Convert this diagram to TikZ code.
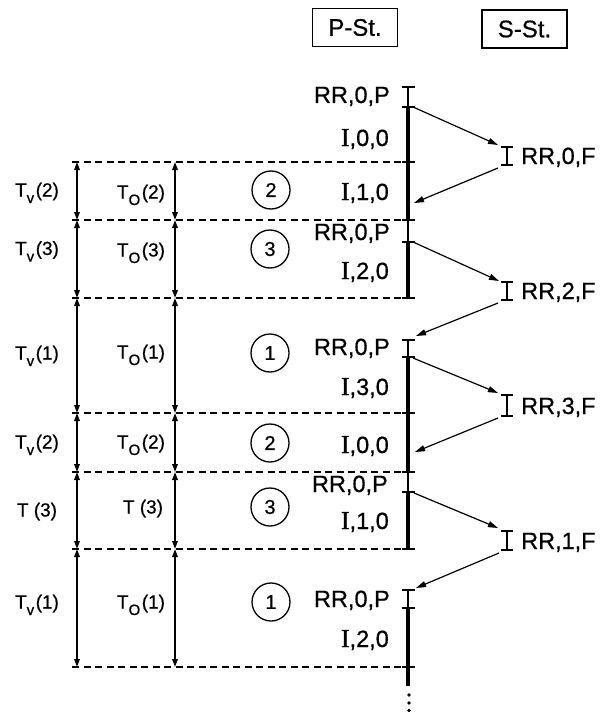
\documentclass[tikz,border=0pt]{standalone}
\usepackage{fontspec}
\setmainfont{Liberation Sans}[FakeBold=0.6]
\newfontfamily\serifI{Liberation Serif}[FakeBold=0.9, Scale=1.1]
\usetikzlibrary{arrows.meta}

% serif capital I used in the I,n,0 labels
\newcommand{\Ii}{{\serifI I}}
% time symbol with a lowered index: T_x(n)
\newcommand{\Tidx}[2]{T\raisebox{-6.5bp}{\fontsize{15bp}{15bp}\selectfont #1}\kern1.5bp(#2)}
% short horizontal mark across a vertical bar, given a coordinate name
\newcommand{\tickat}[1]{\draw[tick] ([xshift=-6.5bp]#1) -- ([xshift=7bp]#1);}

\begin{document}
\begin{tikzpicture}[x=1bp,y=-1bp,
  big/.style={font=\fontsize{23.5bp}{24bp}\selectfont, inner sep=0pt},
  small/.style={font=\fontsize{19bp}{19bp}\selectfont, inner sep=0pt},
  hdr/.style={draw, line width=1.3bp, font=\fontsize{24bp}{24bp}\selectfont,
    minimum width=85bp, minimum height=38bp, inner sep=0pt},
  num/.style={draw, circle, line width=1.3bp, minimum size=38bp, inner sep=0pt,
    font=\fontsize{20bp}{20bp}\selectfont},
  levelline/.style={line width=1.2bp, dash pattern=on 7bp off 4.5bp},
  timebar/.style={line width=3.8bp},
  rrbar/.style={line width=2.2bp},
  tick/.style={line width=1.5bp},
  msg/.style={line width=1.2bp, -{Triangle[length=10bp,width=6bp]}},
  span/.style={line width=1.5bp,
    {Triangle[length=8bp,width=5.5bp]}-{Triangle[length=8bp,width=5.5bp]}}
]
\useasboundingbox (0,0) rectangle (600,712);

% station headers
\node[hdr] (pst) at (355,27.5) {P-St.};
\node[hdr] (sst) at (524.5,29) {S-St.};

% level lines with the two dimension columns
\foreach \n/\y in {d1/162, d2/220, d3/298, d4/413, d5/472, d6/549, d7/667} {
  \coordinate (\n L) at (77,\y);
  \coordinate (\n M) at (175,\y);
  \coordinate (\n R) at (408,\y);
  \draw[levelline] ([xshift=-5bp]\n L) -- (\n R);
}
\foreach \a/\b in {d1/d2, d2/d3, d3/d4, d4/d5, d5/d6, d6/d7} {
  \draw[span] (\a L) -- (\b L);
  \draw[span] (\a M) -- (\b M);
}

% dimension labels
\node[small, anchor=base] (tv1) at (37,196.5) {\Tidx{v}{2}};
\node[small, anchor=base] (tv2) at (37,255)   {\Tidx{v}{3}};
\node[small, anchor=base] (tv3) at (37,359.5) {\Tidx{v}{1}};
\node[small, anchor=base] (tv4) at (37,448.5) {\Tidx{v}{2}};
\node[small, anchor=base] (tv5) at (37,516.5) {T\ (3)};
\node[small, anchor=base] (tv6) at (37,608.5) {\Tidx{v}{1}};
\node[small, anchor=base] (to1) at (141,198.5) {\Tidx{O}{2}};
\node[small, anchor=base] (to2) at (141,256.5) {\Tidx{O}{3}};
\node[small, anchor=base] (to3) at (141,358.5) {\Tidx{O}{1}};
\node[small, anchor=base] (to4) at (141,448.5) {\Tidx{O}{2}};
\node[small, anchor=base] (to5) at (143,513.5) {T\ (3)};
\node[small, anchor=base] (to6) at (141,608.5) {\Tidx{O}{1}};

% numbered circles
\node[num] (c1) at (271,190) {2};
\node[num] (c2) at (270,249) {3};
\node[num] (c3) at (270,353) {1};
\node[num] (c4) at (270,443) {2};
\node[num] (c5) at (270,507) {3};
\node[num] (c6) at (271,602) {1};

% P-St. time axis
\coordinate (pa0) at (408,87);  \coordinate (pa1) at (408,107);
\coordinate (pa3) at (408,242);
\coordinate (pb0) at (408,340); \coordinate (pb1) at (408,357);
\coordinate (pb3) at (408,492);
\coordinate (pc0) at (408,590); \coordinate (pc1) at (408,608);
\coordinate (pc2) at (408,686);

\draw[rrbar] (pa0) -- (pa1);
\draw[timebar] (pa1) -- (d2R);
\draw[rrbar] (d2R) -- (pa3);
\draw[timebar] (pa3) -- (d3R);
\draw[rrbar] (pb0) -- (pb1);
\draw[timebar] (pb1) -- (d5R);
\draw[rrbar] (d5R) -- (pb3);
\draw[timebar] (pb3) -- (d6R);
\draw[rrbar] (pc0) -- (pc1);
\draw[timebar] (pc1) -- (pc2);
\foreach \p in {pa0, pa1, d1R, d2R, pa3, d3R, pb0, pb1, d4R, d5R, pb3, d6R, pc0, pc1, d7R} {
  \tickat{\p}
}
\fill (409,695) circle (1.9);
\fill (409,703) circle (1.9);
\fill (409,710.5) circle (1.9);

% P-St. labels
\node[big, anchor=base east] (p1) at (390,103) {RR,0,P};
\node[big, anchor=base east] (p2) at (389,146) {\Ii,0,0};
\node[big, anchor=base east] (p3) at (389,200) {\Ii,1,0};
\node[big, anchor=base east] (p4) at (390,240) {RR,0,P};
\node[big, anchor=base east] (p5) at (389,279) {\Ii,2,0};
\node[big, anchor=base east] (p6) at (390,355) {RR,0,P};
\node[big, anchor=base east] (p7) at (389,395) {\Ii,3,0};
\node[big, anchor=base east] (p8) at (389,453) {\Ii,0,0};
\node[big, anchor=base east] (p9) at (388,492) {RR,0,P};
\node[big, anchor=base east] (p10) at (389,529) {\Ii,1,0};
\node[big, anchor=base east] (p11) at (390,607) {RR,0,P};
\node[big, anchor=base east] (p12) at (389,647) {\Ii,2,0};

% S-St. bars and labels
\foreach \n/\t/\b in {s0/147/165, s2/282/300, s3/395/416, s1/531/550} {
  \coordinate (\n t) at (507,\t);
  \coordinate (\n b) at (507,\b);
  \draw[rrbar] (\n t) -- (\n b);
  \draw[tick] ([xshift=-6bp]\n t) -- ([xshift=6bp]\n t);
  \draw[tick] ([xshift=-6bp]\n b) -- ([xshift=6bp]\n b);
}
\node[big, anchor=base west] (f0) at (521,164) {RR,0,F};
\node[big, anchor=base west] (f2) at (521,299) {RR,2,F};
\node[big, anchor=base west] (f3) at (521,414) {RR,3,F};
\node[big, anchor=base west] (f1) at (521,549) {RR,1,F};

% message arrows between the stations
\coordinate (m1s) at (413,107); \coordinate (m1e) at (498,145);
\coordinate (m2s) at (498,168); \coordinate (m2e) at (414,203);
\coordinate (m3s) at (413,242); \coordinate (m3e) at (499,281);
\coordinate (m4s) at (498,303); \coordinate (m4e) at (416,336);
\coordinate (m5s) at (413,358); \coordinate (m5e) at (498,393);
\coordinate (m6s) at (498,418); \coordinate (m6e) at (415,452);
\coordinate (m7s) at (414,493); \coordinate (m7e) at (498,528);
\coordinate (m8s) at (499,553); \coordinate (m8e) at (416,588);
\foreach \k in {1,...,8} {
  \draw[msg] (m\k s) -- (m\k e);
}
\end{tikzpicture}
\end{document}
